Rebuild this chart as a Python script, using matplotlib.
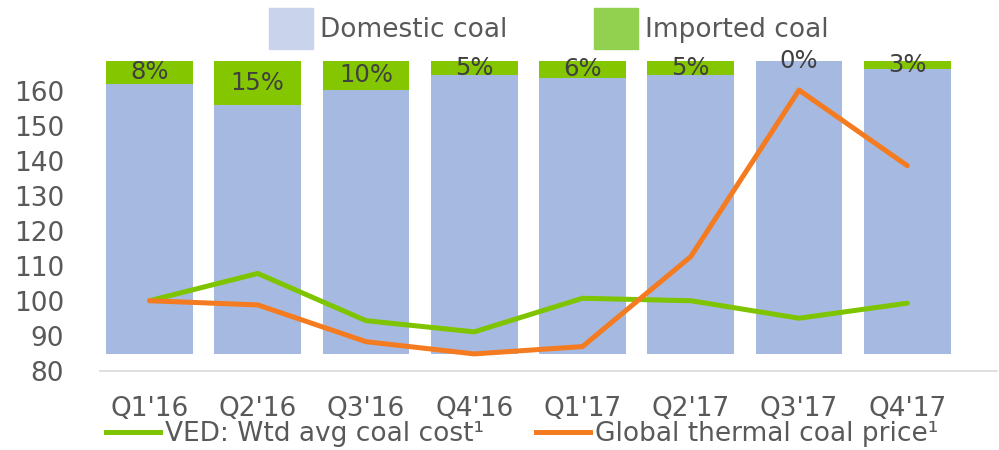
import matplotlib
matplotlib.use("Agg")
import matplotlib.pyplot as plt
from matplotlib.patches import Patch
from matplotlib.lines import Line2D
import numpy as np

quarters = ["Q1'16", "Q2'16", "Q3'16", "Q4'16", "Q1'17", "Q2'17", "Q3'17", "Q4'17"]
imported_pct = [8, 15, 10, 5, 6, 5, 0, 3]
ved_cost = [100, 107.8, 94.3, 91.1, 100.7, 100.0, 95.0, 99.3]
global_price = [100, 98.8, 88.3, 84.8, 86.9, 112.6, 160.2, 138.6]

TXT = "#595959"
FS = 19
plt.rcParams["font.family"] = ["DejaVu Sans"]

fig = plt.figure(figsize=(9.99, 4.5), dpi=100)
ax = fig.add_axes([0.1001, 0.1762, 0.898, 0.6905])
ax2 = ax.twinx()

x = np.arange(len(quarters))
imp = np.array(imported_pct) / 100
dom = 1 - imp

# stacked share bars (secondary axis)
ax2.bar(x, dom, width=0.8, color="#A6B9E0", edgecolor="none")
top = ax2.bar(x, imp, bottom=dom, width=0.8, color="#84C700", edgecolor="none")
ax2.bar_label(top, labels=[f"{p}%" for p in imported_pct], label_type="center",
              fontsize=17.5, color="#404040")
ax2.set_ylim(-0.056, 1.0024)
ax2.set_yticks([])
for s in ax2.spines.values():
    s.set_visible(False)

# index lines (primary axis)
ax.set_zorder(ax2.get_zorder() + 1)
ax.patch.set_visible(False)
ax.plot(x, ved_cost, color="#7FC400", lw=3.6, solid_capstyle="round")
ax.plot(x, global_price, color="#F47B20", lw=3.6, solid_capstyle="round")

ax.set_xlim(-0.457, 7.83)
ax.set_ylim(80, 168.8)
ax.set_yticks(range(80, 161, 10))
ax.set_xticks(x)
ax.set_xticklabels(quarters)
ax.tick_params(axis="y", length=0, pad=26, labelsize=FS, labelcolor=TXT)
ax.tick_params(axis="x", length=0, pad=18, labelsize=FS, labelcolor=TXT)
for side in ["top", "left", "right"]:
    ax.spines[side].set_visible(False)
ax.spines["bottom"].set_color("#D9D9D9")
ax.spines["bottom"].set_linewidth(1.2)

# legends
top_handles = [Patch(color="#C9D4EC"), Patch(color="#92D050")]
leg1 = fig.legend(top_handles, ["Domestic coal", "Imported coal"], ncol=2,
                  loc="center left", bbox_to_anchor=(0.269, 0.936), frameon=False,
                  fontsize=FS, handlelength=1.66, handleheight=2.0,
                  handletextpad=0.27, columnspacing=3.3, borderaxespad=0, borderpad=0)
for t in leg1.get_texts():
    t.set_color(TXT)

line_handles = [Line2D([], [], color="#7FC400", lw=3.6),
                Line2D([], [], color="#F47B20", lw=3.6)]
leg2 = fig.legend(line_handles, ["VED: Wtd avg coal cost¹", "Global thermal coal price¹"],
                  ncol=2, loc="center left", bbox_to_anchor=(0.106, 0.036), frameon=False,
                  fontsize=FS, handlelength=2.05, handletextpad=0.2, columnspacing=1.95,
                  borderaxespad=0, borderpad=0)
for t in leg2.get_texts():
    t.set_color(TXT)

fig.savefig("out.png", dpi=100)
